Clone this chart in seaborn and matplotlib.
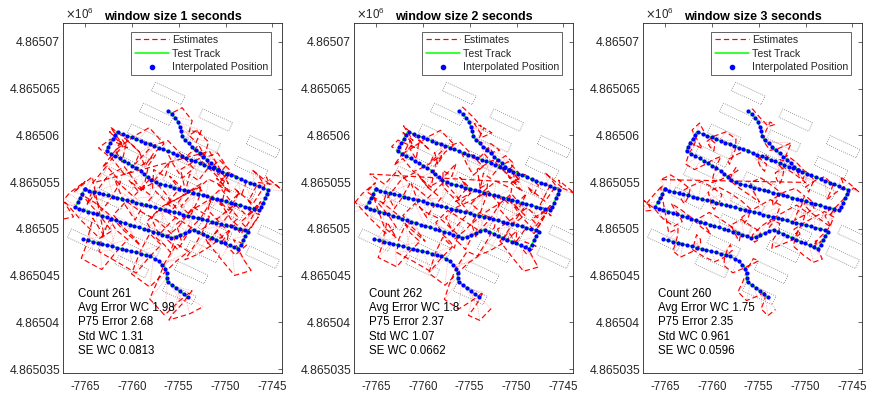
import numpy as np
import matplotlib
matplotlib.use("Agg")
import matplotlib.pyplot as plt
import seaborn as sns
from matplotlib.patches import Polygon
from matplotlib.lines import Line2D
from matplotlib.collections import LineCollection
from matplotlib.ticker import FuncFormatter

sns.set_theme(style="white")
plt.rcParams["font.family"] = ["Liberation Sans", "DejaVu Sans"]
plt.rcParams["axes.unicode_minus"] = False

# ---- test track (easting / northing, metres), walked as four pieces ----
BRANCH_E = [-7756.09, -7755.18, -7754.81, -7754.59, -7754.11, -7752.73, -7751.45, -7750.81]
BRANCH_N = [4865062.64, 4865061.63, 4865060.77, 4865059.81, 4865059.28, 4865058.05, 4865056.93, 4865056.29]
UPPER_E = [-7750.81, -7745.44, -7746.32, -7757.26, -7758.06, -7759.13, -7762.76, -7761.62, -7750.81]
UPPER_N = [4865056.29, 4865054.16, 4865051.95, 4865054.90, 4865055.28, 4865056.29, 4865058.35, 4865060.38, 4865056.29]
LOWER_E = [-7765.05, -7747.57, -7748.67, -7753.44, -7755.66, -7766.07, -7765.05]
LOWER_N = [4865054.21, 4865049.78, 4865047.83, 4865049.94, 4865049.03, 4865052.29, 4865054.21]
TAIL_E = [-7765.18, -7758.06, -7757.16, -7756.52, -7756.30, -7756.30, -7754.01]
TAIL_N = [4865048.90, 4865047.11, 4865046.58, 4865045.94, 4865045.30, 4865044.45, 4865042.68]

# ---- shelving units (centre easting / northing, metres) ----
SHELF_E = [-7756.11, -7751.05, -7745.99,
           -7757.39, -7752.33, -7747.27,
           -7758.67, -7753.61, -7748.55,
           -7759.95, -7754.89, -7749.83, -7744.77,
           -7761.23, -7756.17, -7751.11, -7746.05,
           -7762.51, -7757.45, -7752.39,
           -7763.79, -7758.73, -7753.67,
           -7765.07, -7760.01, -7754.95]
SHELF_N = [4865064.48, 4865061.63, 4865058.78,
           4865062.24, 4865059.39, 4865056.54,
           4865060.00, 4865057.15, 4865054.30,
           4865057.76, 4865054.91, 4865052.06, 4865049.21,
           4865055.52, 4865052.67, 4865049.82, 4865046.97,
           4865053.28, 4865050.43, 4865047.58,
           4865051.04, 4865048.19, 4865045.34,
           4865048.80, 4865045.95, 4865043.10]
SHELF_LEN, SHELF_WID, SHELF_ANGLE = 3.5, 1.0, -25.0

# ---- position-estimate errors per window size (decimetres, east / north),
#      in walking order: branch, upper loop, lower loop, tail ----
ERR1_E = [5, 12, 20, 14, 25, 18, 9, 16, 28, 21, 11, 3, 15, 24, 30, 19, 8, 14, 22, 10, 17,
          6, -4, 8, -10, -2, 13, 4, -7, 9, 18, 7, -3, 12, 5, 20,
          8, -9, -18, -5, -14, 2,
          -20, -8, 6, -2, -15, -24, -10, 5, -4, 12, 2, -13, -6, 9, 17, 3, -9, -19, -5, 8, 14, -1, -12, 4, -8, 15, 7, -11,
          -6, 10, 18, 3, -9, -16, 2, 11, 22, 8, -4, -14, -21, -3, 7, 16, 1,
          -8, 4, 14, -2, 9, -5,
          11, 20, 3, -6, -17, 2, 12, 24, 9, -4, -13, -22, -7, 6, 18, 26, 10, -3, -14, 1, 13, 21, 5, -8, -16, -25, -9, 7, 15,
          -9, 5, 16, 27, 12, -1, -15, -24, -6, 8, 19, 30, 14, 4, -11, -20, -29, -13, 2, 13, 25, 9, -5, -17, -8, 10, 22, 31,
          16, 1, -12, -21, -7, 6, 15, 26, 11, -3, -14, -25, -10, 3, 12, 23, 8, -6,
          -14, -25, -9, 5, -7,
          6, 17, 3, -8, -19, -4, 9, 15, 1, -12, -21, -5, 8,
          16, 2, -9, -20, -3, 11,
          21, 6, -7, -18, -4, 9, 19, 28, 12, -3, -13, -23, -8, 7, 17, 3, -9, -20, -31, -14, 1, 13, 4, -12, -24, -35, -18, -5,
          -38, -22, -10, 5, -9,
          9, 20, 4, -8, -16, 2, 12, 22, 6, -5, -17, -24, -7, 8, 18, 27, 11, -2, -12, -20, -4, 9, 19, 28, 13, -1, -10, -18,
          -3, 10, 20, 7, -6, -14, 5, 16]
ERR1_N = [-2, 6, -5, -14, -9, -18, -7, 2, -6, -20, -13, -3, -11, -4, -15, -22, -12, -1, -9, -17, -6,
          -16, -8, -22, -12, 3, -6, -19, -10, -25, -4, 9, 16, 2, 11, -3,
          6, 12, -4, -15, -7, 5,
          -12, -22, -9, -28, -14, 5, -6, 12, -3, -17, -30, -11, 3, -8, 10, 18, 4, -13, -24, -6, 8, -5, 14, 2, -19, -9, -25, -4,
          15, 6, 20, -5, -16, -7, -22, 4, 13, -2, -12, 3, -8, 9, 18, 7, 14,
          3, -12, -2, 10, -6, 8,
          -9, -20, -6, -28, -14, 4, 13, -3, -12, -24, -8, -19, 2, 9, -6, -18, -27, -11, 5, -2, 14, -7, -21, -13, -30, -5, 8, -10, -16,
          20, 8, 27, 11, -7, -18, 4, -9, 22, 33, 14, 3, -10, -20, -2, 12, 26, 9, 30, 15, -6, -17, -27, -8, 6, 18, 28, 13,
          -4, -14, -25, -7, 10, 21, 34, 16, 2, -11, -21, -5, 9, 24, 13, 29, 10, -4,
          8, -6, -17, -3, 6,
          -12, -24, -31, -15, 2, 12, -4, 9, -8, -20, -27, -10, 5,
          14, 25, 6, -5, -16, 2,
          9, 21, 30, 14, -4, -13, -22, -7, 10, 19, 28, 12, -3, -15, -24, -9, 7, 18, 26, 10, -5, -17, -26, -8, 9, 20, 7, -9,
          -18, -6, 8, 17, 2,
          15, 4, 24, -7, -17, -28, -10, 6, 17, 29, 12, -3, -14, -24, -6, 8, 21, 5, -9, -19, -31, -13, 2, 14, 25, 9, -8, -22,
          -36, -18, -5, -16, -24, -29, -20, -10]
ERR2_E = [3, 11, 18, 8, 15, 23, 13, 6, 19, 26, 14, 4, 10, 21, 27, 16, 7, 12, 20, 9, 15, 6,
          4, -6, 5, -11, 0, 11, 2, -8, 7, 15, 5, -4, 10, 3, 17,
          6, -8, -16, -3, -12, 1,
          -17, -6, 5, -4, -13, -21, -8, 4, -5, 10, 1, -11, -4, 8, 15, 2, -8, -17, -3, 7, 12, -2, -10, 3, -7, 13, 5, -9,
          -5, 8, 16, 2, -8, -14, 1, 9, 19, 6, -4, -12, -18, -2, 6, 14, 0,
          -7, 3, 12, -2, 8, -4,
          9, 17, 2, -5, -15, 1, 10, 21, 7, -4, -11, -19, -6, 5, 15, 22, 8, -3, -12, 1, 11, 18, 4, -7, -14, -21, -8, 6, 13,
          -8, 4, 14, 23, 10, -1, -13, -21, -5, 7, 16, 26, 12, 3, -10, -17, -25, -11, 2, 11, 21, 8, -4, -15, -7, 9, 19, 27,
          14, 1, -10, -18, -6, 5, 13, 22, 9, -3, -12, -21, -9, 3, 10, 20, 7, -5,
          -12, -21, -8, 4, -6,
          5, 14, 2, -7, -16, -3, 8, 13, 1, -10, -18, -4, 7, 12,
          14, 2, -8, -17, -2, 9,
          18, 5, -6, -15, -3, 8, 16, 24, 10, -3, -11, -20, -7, 6, 15, 2, -8, -17, -27, -12, 1, 11, 3, -10, -21, -30, -15,
          -33, -19, -8, 4, -7, -2,
          8, 17, 3, -7, -14, 2, 10, 19, 5, -4, -15, -21, -6, 7, 16, 23, 9, -2, -10, -17, -3, 8, 16, 24, 11, -1, -9, -15,
          -3, 9, 17, 6, -5, 4, 13]
ERR2_N = [4, -3, -11, -5, -16, -8, 1, -9, -18, -12, -2, -10, -19, -7, -13, -21, -10, -3, -12, -6, -15, -4,
          -13, -5, -19, -9, 2, -8, -17, -7, -21, -3, 7, 14, 0, 9, -4,
          5, 10, -5, -13, -5, 4,
          -10, -19, -7, -24, -11, 4, -5, 10, -4, -15, -26, -9, 2, -7, 8, 15, 3, -11, -21, -5, 7, -4, 12, 1, -16, -8, -21, -3,
          13, 5, 17, -4, -14, -6, -19, 3, 11, -2, -10, 2, -7, 8, 15, 6, 12,
          2, -10, -2, 8, -5, 7,
          -8, -17, -5, -24, -12, 3, 11, -3, -10, -21, -7, -16, 2, 8, -5, -15, -23, -9, 4, -2, 12, -6, -18, -11, -26, -4, 7, -9, -14,
          17, 7, 23, 9, -6, -15, 3, -8, 19, 28, 12, 2, -9, -17, -2, 10, 22, 8, 26, 13, -5, -14, -23, -7, 5, 15, 24, 11,
          -3, -12, -21, -6, 8, 18, 29, 14, 2, -9, -18, -4, 8, 21, 11, 25, 9, -3,
          7, -5, -15, -3, 5,
          -10, -21, -27, -13, 2, 10, -3, 8, -7, -17, -23, -8, 4, 10,
          12, 21, 5, -4, -14, 2,
          8, 18, 26, 12, -3, -11, -19, -6, 9, 16, 24, 10, -3, -13, -21, -8, 6, 15, 23, 9, -4, -15, -22, -7, 8, 17, 6,
          -15, -5, 7, 15, 2, -6,
          13, 3, 21, -6, -15, -24, -9, 5, 15, 25, 10, -3, -12, -21, -5, 7, 18, 4, -8, -16, -27, -11, 2, 12, 21, 8, -7, -19,
          -27, -15, -4, -16, -24, -27, -12]
ERR3_E = [4, 10, 16, 20, 13, 7, 3, 9, 15, 22, 26, 19, 12, 5, 10, 17, 23, 18, 11, 6, 12, 18,
          12, 5, -2, 4, 11, 16, 9, 2, 7, 13, 8, 2, 8, 14,
          6, -2, -10, -14, -7, -11,
          -15, -8, -1, -7, -14, -18, -11, -3, 4, -2, -9, -3, 6, 13, 7, -1, -10, -5, 3, 11, 5, -3, -10, -4, 4, 11, 5, -3, -9,
          -3, 5, 10, 5, -2, -9, -4, 3, 11, 7, 0, -7, -13, -6, 3, 9,
          3, 8, 13, 6, -2, 4,
          8, 14, 9, 1, -6, -2, 7, 14, 10, 3, -4, -10, -4, 4, 11, 17, 11, 3, -4, 0, 7, 13, 8, 1, -6, -11, -5, 3, 10,
          -6, 1, 8, 14, 8, 0, -7, -13, -6, 3, 10, 17, 10, 1, -6, -11, -17, -10, -1, 7, 13, 7, -1, -8, -4, 4, 11, 18,
          11, 3, -6, -11, -6, 1, 8, 14, 8, 0, -8, -14, -7, 0, 7, 13, 6,
          -1, -8, -13, -7, 1, -4,
          4, 10, 4, -4, -10, -4, 3, 8, 3, -6, -11, -6, 4,
          8, 3, -4, -10, -4, 4,
          10, 4, -3, -10, -4, 4, 10, 15, 8, 0, -7, -13, -6, 3, 10, 4, -4, -11, -17, -10, -1, 6, 1, -7, -13, -20, -11, -4,
          -20, -13, -6, 1, -3,
          4, 10, 6, -1, -7, -3, 6, 11, 7, -1, -7, -13, -6, 3, 8, 14, 8, 1, -6, -10, -4, 4, 10, 15, 8, 1, -4, -10,
          -4, 4, 10, 6, -1, 3, 8]
ERR3_N = [2, -5, -11, -6, 0, -6, -13, -19, -14, -7, -1, -8, -15, -11, -4, -9, -16, -21, -16, -9, -5, -11,
          -15, -21, -14, -6, 0, -8, -15, -20, -12, -4, 3, 10, 4, -3,
          3, -4, -10, -14, -7, 1,
          -6, -13, -20, -14, -7, 1, 8, 3, -6, -14, -21, -15, -7, 2, 9, 4, -5, -13, -8, -1, 6, 13, 7, -2, -10, -17, -11, -4, 3,
          9, 14, 8, 1, -7, -13, -7, 2, 9, 4, -4, -11, -7, 2, 9, 15,
          8, 1, -6, -1, 7, 11,
          -3, -10, -17, -11, -4, 3, 9, 3, -6, -13, -20, -14, -7, 0, -6, -13, -19, -13, -4, 3, -3, -10, -17, -23, -16, -8, -1, -7, -14,
          11, 17, 11, 4, -4, -10, -4, 4, 11, 18, 13, 6, -3, -8, -3, 6, 13, 20, 14, 7, -1, -8, -14, -7, 0, 8, 15, 10,
          3, -6, -11, -6, 3, 10, 17, 11, 4, -4, -10, -4, 4, 11, 18, 13, 6,
          1, -4, -10, -4, 3, 7,
          -6, -13, -18, -11, -4, 4, 10, 4, -4, -11, -16, -8, 0,
          7, 13, 7, -1, -7, -3,
          6, 11, 17, 10, 3, -6, -11, -6, 3, 10, 15, 8, 1, -7, -13, -7, 3, 10, 15, 8, 0, -8, -14, -7, 3, 10, 4, -3,
          -8, -3, 4, 10, 3,
          7, 13, 7, -3, -8, -14, -7, 1, 8, 14, 7, 0, -6, -11, -6, 3, 10, 6, -3, -8, -14, -7, 0, 7, 13, 6, -4, -11,
          -18, -11, -4, -10, -17, -22, -13]

WINDOWS = [1, 2, 3]
ERRORS = [(ERR1_E, ERR1_N), (ERR2_E, ERR2_N), (ERR3_E, ERR3_N)]
STAT_LABELS = ["Count", "Avg Error WC", "P75 Error", "Std WC", "SE WC"]
STAT_VALUES = [["261", "1.98", "2.68", "1.31", "0.0813"],
               ["262", "1.8", "2.37", "1.07", "0.0662"],
               ["260", "1.75", "2.35", "0.961", "0.0596"]]

X_TICKS = [-7765, -7760, -7755, -7750, -7745]
Y_TICKS = [4865035, 4865040, 4865045, 4865050, 4865055, 4865060, 4865065, 4865070]
X_LIM = (-7767.35, -7743.98)
Y_LIM = (4865034.6, 4865072.0)

PIECES = [(BRANCH_E, BRANCH_N), (UPPER_E, UPPER_N), (LOWER_E, LOWER_N), (TAIL_E, TAIL_N)]
DOT_STEP = 0.52
INK = "#262626"

for (ce, cn), lab in zip(ERRORS, STAT_VALUES):
    assert len(ce) == len(cn) == int(lab[0]), (len(ce), len(cn), lab[0])


def arc_length(e, n):
    e, n = np.asarray(e), np.asarray(n)
    return np.concatenate([[0.0], np.cumsum(np.hypot(np.diff(e), np.diff(n)))])


def positions_on_track(s_values):
    """Track positions at the given distances walked along the concatenated pieces."""
    lengths = [arc_length(e, n) for e, n in PIECES]
    totals = np.cumsum([0.0] + [a[-1] for a in lengths])
    pe, pn = [], []
    for s in s_values:
        k = min(np.searchsorted(totals, s, side="right") - 1, len(PIECES) - 1)
        e, n = PIECES[k]
        local = s - totals[k]
        pe.append(np.interp(local, lengths[k], e))
        pn.append(np.interp(local, lengths[k], n))
    return np.array(pe), np.array(pn), totals[-1]


def shelf_outline(ce, cn):
    a = np.deg2rad(SHELF_ANGLE)
    u = np.array([np.cos(a), np.sin(a)])
    v = np.array([-np.sin(a), np.cos(a)])
    hl, hw = SHELF_LEN / 2, SHELF_WID / 2
    c = np.array([ce, cn])
    return [c + hl * u + hw * v, c - hl * u + hw * v, c - hl * u - hw * v, c + hl * u - hw * v]


fig = plt.figure(figsize=(8.71, 3.98), dpi=100)
lefts = [0.0723, 0.4064, 0.7382]

for p, (win, (err_e, err_n), stats) in enumerate(zip(WINDOWS, ERRORS, STAT_VALUES)):
    ax = fig.add_axes([lefts[p], 0.0628, 0.2514, 0.8794])
    ax.set_facecolor("white")

    # shelving
    for ce, cn in zip(SHELF_E, SHELF_N):
        ax.add_patch(Polygon(shelf_outline(ce, cn), closed=True, fill=False,
                             edgecolor="#7a7a7a", linewidth=0.6,
                             linestyle=(0, (1.0, 1.6)), zorder=1))

    # estimates and their link to the interpolated truth
    n_est = len(err_e)
    total_len = positions_on_track([0.0])[2]
    te, tn, _ = positions_on_track(np.linspace(0.0, total_len, n_est))
    ee = te + np.asarray(err_e) / 10.0
    en = tn + np.asarray(err_n) / 10.0

    links = [[(a, b), (c, d)] for a, b, c, d in zip(ee, en, te, tn)]
    ax.add_collection(LineCollection(links, colors=(1.0, 0.4, 0.4, 0.65),
                                     linewidths=0.55, linestyles=(0, (1.0, 1.2)),
                                     zorder=2))

    sns.lineplot(x=ee, y=en, sort=False, estimator=None, ax=ax,
                 color="red", linewidth=0.85, zorder=3)
    ax.lines[-1].set_linestyle((0, (4.5, 2.6)))

    # test track and the interpolated positions along it
    for e, n in PIECES:
        sns.lineplot(x=e, y=n, sort=False, estimator=None, ax=ax,
                     color="#00ff00", linewidth=1.1, zorder=4)
        d = arc_length(e, n)
        s = np.linspace(0.0, d[-1], int(round(d[-1] / DOT_STEP)) + 1)
        sns.scatterplot(x=np.interp(s, d, e), y=np.interp(s, d, n), ax=ax,
                        color="blue", s=9, linewidth=0, zorder=5)

    ax.set_xlim(*X_LIM)
    ax.set_ylim(*Y_LIM)
    ax.set_xticks(X_TICKS)
    ax.set_yticks(Y_TICKS)
    ax.xaxis.set_major_formatter(FuncFormatter(lambda v, _: f"{v:.0f}"))
    ax.yaxis.set_major_formatter(FuncFormatter(lambda v, _: f"{v / 1e6:.7g}"))
    ax.tick_params(axis="both", direction="in", length=3, width=0.5,
                   top=True, right=True, colors=INK)
    ax.tick_params(axis="x", pad=5.5, labelsize=8.3)
    ax.tick_params(axis="y", pad=2, labelsize=8.8)
    for sp in ax.spines.values():
        sp.set_color(INK)
        sp.set_linewidth(0.6)
    ax.set_xlabel("")
    ax.set_ylabel("")

    ax.set_title(f"window size {win} seconds", fontsize=9.0, fontweight="bold",
                 color="black", pad=2.5)
    ax.text(0.01, 1.004, r"$\times\mathregular{10^{6}}$", transform=ax.transAxes,
            ha="left", va="bottom", fontsize=8.3, color=INK)

    stat_text = "\n".join(f"{lab} {val}" for lab, val in zip(STAT_LABELS, stats))
    ax.text(0.068, 0.045, stat_text, transform=ax.transAxes, ha="left", va="bottom",
            fontsize=8.3, color="black", linespacing=1.27, zorder=6)

    handles = [Line2D([], [], color="red", linewidth=0.85, linestyle=(0, (4.5, 2.6))),
               Line2D([], [], color="#00ff00", linewidth=1.1),
               Line2D([], [], color="blue", marker="o", markersize=3, linestyle="none")]
    leg = ax.legend(handles, ["Estimates", "Test Track", "Interpolated Position"],
                    loc="upper right", bbox_to_anchor=(0.952, 0.975), fontsize=7.6,
                    frameon=True, fancybox=False, framealpha=1, edgecolor=INK,
                    borderpad=0.3, labelspacing=0.35, handlelength=3.3,
                    handletextpad=0.25, borderaxespad=0)
    leg.get_frame().set_linewidth(0.5)
    leg.set_zorder(7)

fig.savefig("out.png", dpi=100)
